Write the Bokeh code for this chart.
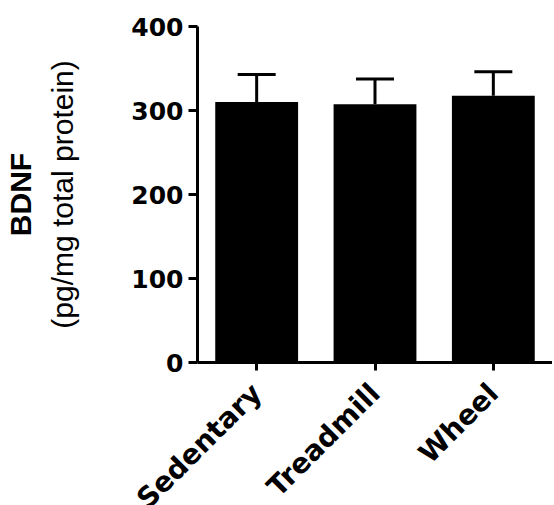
from math import pi
from bokeh.plotting import figure
from bokeh.models import Range1d, LinearAxis, FixedTicker, Whisker, ColumnDataSource, TeeHead
from bokeh.embed import file_html
from bokeh.resources import INLINE

groups = ["Sedentary", "Treadmill", "Wheel"]
means = [310, 307.5, 317.5]
sem = [33, 30, 28.5]
y_ticks = [0, 100, 200, 300, 400]

upper = [m + s for m, s in zip(means, sem)]
src = ColumnDataSource(dict(g=groups, m=means, u=upper))

p = figure(x_range=groups, y_range=Range1d(0, 400), frame_width=355, frame_height=336,
           output_backend="svg", toolbar_location=None,
           min_border_left=191, min_border_right=0, min_border_top=26, min_border_bottom=0)
p.x_range.range_padding = 0
p.grid.visible = False
p.outline_line_color = None
p.background_fill_color = "white"
p.border_fill_color = "white"

w = Whisker(source=src, base="g", upper="u", lower="m", dimension="height",
            line_width=3, line_color="black",
            upper_head=TeeHead(size=38, line_width=3, line_color="black"), lower_head=None)
p.add_layout(w)
p.vbar(x="g", top="m", width=0.7, source=src, fill_color="black", line_color=None)

ya = p.yaxis[0]
ya.ticker = FixedTicker(ticks=y_ticks)
ya.axis_line_width = 3
ya.major_tick_line_width = 3
ya.major_tick_out = 9
ya.major_tick_in = 0
ya.minor_tick_out = 0
ya.minor_tick_in = 0
ya.major_label_standoff = 5
ya.major_label_text_font = "DejaVu Sans"
ya.major_label_text_font_style = "bold"
ya.major_label_text_font_size = "25px"
ya.major_label_text_color = "black"
ya.axis_label = "(pg/mg total protein)"
ya.axis_label_text_font = "Liberation Sans"
ya.axis_label_text_font_style = "normal"
ya.axis_label_text_font_size = "30px"
ya.axis_label_text_color = "black"
ya.axis_label_standoff = 49

ya2 = LinearAxis(ticker=FixedTicker(ticks=[]), axis_line_color=None,
                 major_tick_out=0, major_tick_in=0, minor_tick_out=0, minor_tick_in=0,
                 major_label_standoff=0, axis_label="BDNF",
                 axis_label_text_font="Liberation Sans", axis_label_text_font_style="bold",
                 axis_label_text_font_size="30px", axis_label_text_color="black",
                 axis_label_standoff=7)
p.add_layout(ya2, "left")

xa = p.xaxis[0]
xa.axis_line_width = 3
xa.major_tick_line_width = 3
xa.major_tick_out = 8
xa.major_tick_in = 0
xa.major_label_orientation = pi / 4
xa.major_label_standoff = 18
xa.major_label_text_font = "DejaVu Sans"
xa.major_label_text_font_style = "bold"
xa.major_label_text_font_size = "28px"
xa.major_label_text_color = "black"

open("out.html", "w").write(file_html(p, INLINE))
